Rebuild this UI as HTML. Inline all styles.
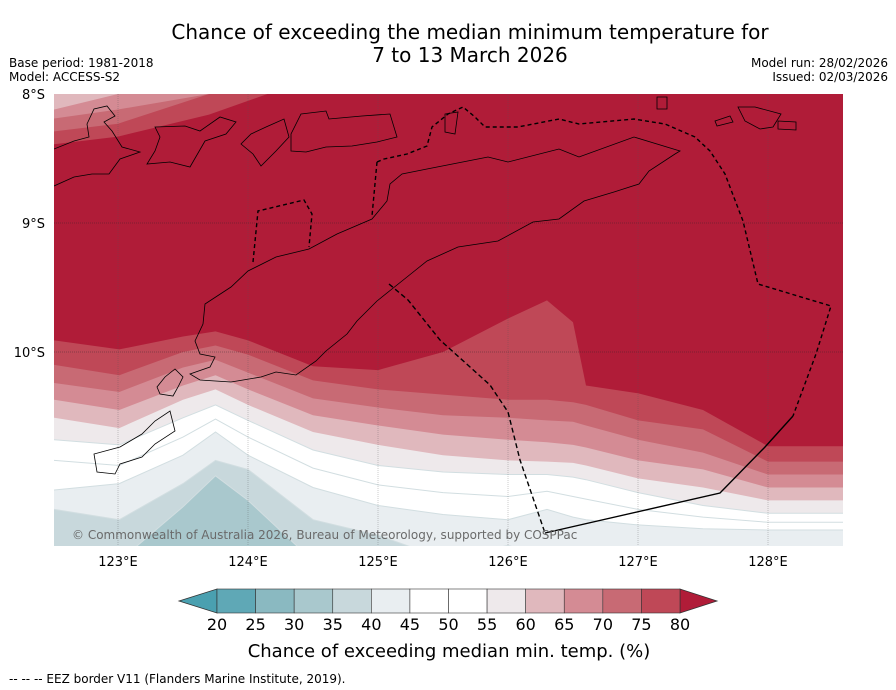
<!DOCTYPE html>
<html><head><meta charset="utf-8"><style>
body{margin:0;background:#fff;width:896px;height:690px;overflow:hidden;font-family:"DejaVu Sans","Liberation Sans",sans-serif}
svg{display:block}
</style></head><body>
<svg id="chart" width="896" height="690" viewBox="0 0 896 690" xmlns="http://www.w3.org/2000/svg">
<defs><clipPath id="mapclip"><rect x="54" y="94" width="789" height="452"/></clipPath></defs>
<text x="470" y="39" text-anchor="middle" font-size="20">Chance of exceeding the median minimum temperature for</text>
<text x="470" y="62" text-anchor="middle" font-size="20">7 to 13 March 2026</text>
<text x="9" y="67" font-size="12">Base period: 1981-2018</text>
<text x="9" y="81" font-size="12">Model: ACCESS-S2</text>
<text x="888" y="67" font-size="12" text-anchor="end">Model run: 28/02/2026</text>
<text x="888" y="81" font-size="12" text-anchor="end">Issued: 02/03/2026</text>
<g id="map" clip-path="url(#mapclip)"></g>
<g id="axes"></g>
<g id="cbar"></g>
<text x="449" y="657" text-anchor="middle" font-size="18">Chance of exceeding median min. temp. (%)</text>
<text x="9" y="683" font-size="12">--  --  -- EEZ border V11 (Flanders Marine Institute, 2019).</text>
</svg>
<script>
// ---- data ----
const lons = [122.51,123.01,123.5,123.75,124.0,124.5,125.0,125.5,126.0,126.3,126.5,126.6,127.0,127.5,128.0,128.6];
const thresholds = [80,75,70,65,60,55,50,45,40,35];
const b80 = [9.91,9.98,9.88,9.84,9.91,10.11,10.14,10.00,9.74,9.60,9.77,10.26,10.32,10.45,10.73,10.73];
const b75 = [10.10,10.18,10.00,9.95,10.02,10.22,10.29,10.33,10.37,10.37,10.39,10.41,10.53,10.60,10.85,10.85];
const b70 = [10.24,10.31,10.12,10.06,10.16,10.36,10.43,10.49,10.51,10.53,10.54,10.57,10.68,10.78,10.95,10.95];
const b65 = [10.37,10.45,10.26,10.18,10.29,10.49,10.57,10.64,10.68,10.70,10.72,10.74,10.84,10.91,11.05,11.05];
const b60 = [10.51,10.59,10.37,10.29,10.41,10.62,10.72,10.80,10.84,10.85,10.86,10.88,10.98,11.05,11.15,11.15];
const b55 = [10.68,10.72,10.51,10.41,10.53,10.76,10.88,10.93,10.95,10.95,10.97,10.99,11.09,11.19,11.25,11.25];
const b50 = [10.84,10.88,10.66,10.52,10.66,10.90,11.03,11.09,11.12,11.08,11.12,11.14,11.22,11.28,11.32,11.32];
const b45 = [11.07,11.02,10.80,10.62,10.80,11.05,11.19,11.26,11.30,11.22,11.28,11.30,11.34,11.37,11.38,11.38];
const b40 = [11.22,11.30,11.02,10.84,10.91,11.30,11.42,11.60,11.50,11.58,11.62,11.62,11.62,11.62,11.62,11.62];
const b35 = [11.62,11.62,11.20,10.96,11.15,11.62,11.62,11.62,11.62,11.62,11.62,11.62,11.62,11.62,11.62,11.62];
const cornerLons = [122.51,123.0,123.7,124.15];
const corner75 = [8.39,8.33,8.16,8.0];
const corner70 = [8.29,8.23,8.0,8.0];
const corner65 = [8.19,8.12,8.0,8.0];
const corner60 = [8.12,8.0,8.0,8.0];
const cbTicks = [20,25,30,35,40,45,50,55,60,65,70,75,80];
const cbColors = ['#5fa8b6','#8ab9c1','#a9c8cd','#c8d8dc','#e9eef1','#ffffff','#ffffff','#eee9eb','#e0b8bd','#d48b94','#c86a74','#bf4857'];
const lonTicks = [123,124,125,126,127,128];
const latTicks = [8,9,10];

// ---- axes ----
const X = lon => 118 + (lon-123)*130;
const Y = lat => 94 + (lat-8)*129;
const NS='http://www.w3.org/2000/svg';
function mk(tag, attrs, parent){const e=document.createElementNS(NS,tag);for(const k in attrs)e.setAttribute(k,attrs[k]);parent.appendChild(e);return e;}
const map=document.getElementById('map');
const belowColor = {80:'#bf4857',75:'#c86a74',70:'#d48b94',65:'#e0b8bd',60:'#eee9eb',55:'#ffffff',50:'#ffffff',45:'#e9eef1',40:'#c8d8dc',35:'#a9c8cd'};
let bg=mk('rect',{x:54,y:94,width:789,height:452,fill:'#b01c38'},map);


const bounds=[b80,b75,b70,b65,b60,b55,b50,b45,b40,b35];
bounds.forEach((arr,i)=>{
  const t=thresholds[i];
  let d='M40,'+Y(arr[0]).toFixed(1);
  for(let j=0;j<lons.length;j++) d+=' L'+X(lons[j]).toFixed(1)+','+Y(arr[j]).toFixed(1);
  d+=' L900,'+Y(arr[arr.length-1]).toFixed(1)+' L900,600 L40,600 Z';
  const p=mk('path',{d:d,fill:belowColor[t]},map);
  
  
});
bounds.forEach((arr,i)=>{
  const t=thresholds[i]; if(t>55) return;
  let d='M40,'+Y(arr[0]).toFixed(1);
  for(let j=0;j<lons.length;j++) d+=' L'+X(lons[j]).toFixed(1)+','+Y(arr[j]).toFixed(1);
  d+=' L900,'+Y(arr[arr.length-1]).toFixed(1);
  const p=mk('path',{d:d,fill:'none',stroke:'#d2dee1','stroke-width':1},map);
  
  
});
[[corner75,'#bf4857',75],[corner70,'#c86a74',70],[corner65,'#d48b94',65],[corner60,'#e0b8bd',60]].forEach(([arr,c,t])=>{
  let d='M40,80 L40,'+Y(arr[0]).toFixed(1);
  for(let j=0;j<cornerLons.length;j++) d+=' L'+X(cornerLons[j]).toFixed(1)+','+Y(arr[j]).toFixed(1);
  d+=' L'+X(cornerLons[cornerLons.length-1]).toFixed(1)+',80 Z';
  const p=mk('path',{d:d,fill:c},map);
  
  
});
lonTicks.forEach(l=>{const g=mk('line',{x1:X(l),x2:X(l),y1:94,y2:546,stroke:'#555','stroke-width':0.5,'stroke-dasharray':'1,1',opacity:0.6},map);

});
[9,10].forEach(l=>{const g=mk('line',{x1:54,x2:843,y1:Y(l),y2:Y(l),stroke:'#222','stroke-width':0.5,'stroke-dasharray':'1,1',opacity:0.7},map);

});
const coasts={
 'timor-coast':'680,151 634,137 579,157 559,149 508,162 488,157 427,169 402,174 390,184 387,201 372,219 337,234 309,249 276,257 248,271 231,287 205,304 203,324 195,341 200,354 215,357 210,367 190,374 200,380 231,382 261,377 276,372 296,375 316,361 326,351 347,334 357,321 377,301 407,277 427,261 458,247 498,241 533,222 559,219 584,201 614,192 639,184 649,171 675,154',
 'roti-coast':'170,411 175,431 155,444 142,457 120,464 115,474 97,472 94,454 120,447 142,434 155,421',
 'semau-coast':'175,369 183,377 178,387 173,396 160,394 157,387 165,377',
 'wetar-coast':'301,114 326,111 329,119 362,116 390,114 397,137 377,142 352,146 326,147 306,152 291,151 291,134',
 'alor-coast':'155,127 185,126 200,131 220,117 236,122 226,134 205,141 190,167 170,162 147,164 155,151 160,137',
 'flores-coast':'40,149 54,149 74,141 89,137 87,124 94,109 107,106 115,116 104,122 112,131 122,147 140,152 120,159 109,174 92,174 74,177 54,186 40,192',
 'kisar-coast':'251,134 266,127 284,119 289,137 276,151 261,166 253,154 241,144',
 'babar-coast':'738,107 755,107 781,114 773,127 760,129 745,121',
 'island-a-coast':'778,121 796,122 796,130 778,129',
 'island-b-coast':'715,121 730,116 733,122 717,126',
 'island-c-coast':'657,97 667,97 667,109 657,109',
 'atauro-coast':'445,114 458,112 455,134 445,132'
};
for(const k in coasts){const p=mk('polygon',{points:coasts[k],fill:'none',stroke:'#000','stroke-width':0.8},map);

}
const eez={
 'eez-border-north':['377,162 384,159 407,154 427,146 432,127 448,114 463,107 475,117 485,127 518,127 559,119 579,124 634,119 665,124 695,137 710,151 725,174 743,221 758,284 831,306 816,354 793,416','4,3'],
 'eez-border-enclave':['377,162 372,216','4,3'],
 'eez-border-oecusse':['253,262 258,211 304,200 312,214 309,247','4,3'],
 'eez-border-west':['389,284 408,300 440,340 490,385 508,412 520,460 545,533','5,3'],
 'eez-border-south':['793,416 765,447 720,493 545,533','none']
};
for(const k in eez){const p=mk('polyline',{points:eez[k][0],fill:'none',stroke:'#000','stroke-width':1.4,'stroke-dasharray':eez[k][1]},map);

}
const cr=mk('text',{x:72,y:539,'font-size':12,fill:'#6a6a6a'},map);
cr.textContent='© Commonwealth of Australia 2026, Bureau of Meteorology, supported by COSPPac';


const axes=document.getElementById('axes');
lonTicks.forEach(l=>{const t=mk('text',{x:X(l),y:566,'font-size':13,'text-anchor':'middle'},axes);t.textContent=l+'°E';

});
latTicks.forEach(l=>{const t=mk('text',{x:45,y:Y(l)+5,'font-size':13,'text-anchor':'end'},axes);t.textContent=l+'°S';

});
const cb=document.getElementById('cbar');
const cx0=217,cx1=680,cy0=589,cy1=613,sw=(cx1-cx0)/cbColors.length;
let la=mk('polygon',{points:`${cx0},${cy0} ${cx0},${cy1} 179,601`,fill:'#4aa0b0',stroke:'#333','stroke-width':0.8},cb);


let ra=mk('polygon',{points:`${cx1},${cy0} ${cx1},${cy1} 717,601`,fill:'#b01c38',stroke:'#333','stroke-width':0.8},cb);


cbColors.forEach((c,i)=>{const r=mk('rect',{x:cx0+i*sw,y:cy0,width:sw,height:cy1-cy0,fill:c,stroke:'#333','stroke-width':0.6},cb);

});
cbTicks.forEach((v,i)=>{const t=mk('text',{x:cx0+i*sw,y:630,'font-size':16,'text-anchor':'middle'},cb);t.textContent=v;

});
</script>
</body></html>
